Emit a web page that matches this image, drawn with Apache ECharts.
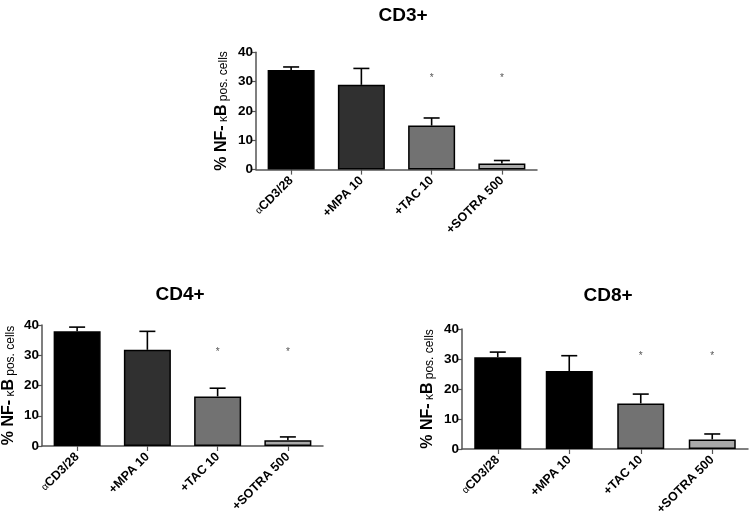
<!DOCTYPE html>
<html>
<head>
<meta charset="utf-8">
<script src="https://cdn.jsdelivr.net/npm/echarts@6/dist/echarts.min.js"></script>
<style>html,body{margin:0;padding:0;background:#fff}#c{width:751px;height:518px}</style>
</head>
<body>
<div id="c"></div>
<script>
const categories = ['αCD3/28', '+MPA 10', '+TAC 10', '+SOTRA 500'];
const panelTitles = ['CD3+', 'CD4+', 'CD8+'];
const yTicks = [0, 10, 20, 30, 40];

const cd3Mean = [34.0, 28.9, 15.0, 2.1];
const cd3Upper = [35.0, 34.5, 17.6, 3.1];
const cd4Mean = [37.9, 31.8, 16.4, 1.9];
const cd4Upper = [39.3, 37.9, 19.1, 3.0];
const cd8Mean = [30.6, 26.0, 15.2, 3.2];
const cd8Upper = [32.3, 31.1, 18.3, 5.0];

const starValue = [null, null, 31, 31];

const barColorsA = ['#000000', '#303030', '#727272', '#a9a9a9'];
const barColorsB = ['#000000', '#000000', '#727272', '#a9a9a9'];

const panels = [
  {mean: cd3Mean, upper: cd3Upper, colors: barColorsA, grid: {left: 256, top: 52.3, width: 281, height: 117.3}, title: {left: 398, top: 1}, nameGap: 26},
  {mean: cd4Mean, upper: cd4Upper, colors: barColorsA, grid: {left: 38, top: 325, width: 285, height: 121}, title: {left: 175, top: 280}, nameGap: 25},
  {mean: cd8Mean, upper: cd8Upper, colors: barColorsB, grid: {left: 462, top: 329, width: 286, height: 120.3}, title: {left: 603, top: 281}, nameGap: 26}
];

const FONT = '"Liberation Sans", Arial, sans-serif';

const option = {
  animation: false,
  backgroundColor: '#fff',
  title: panels.map((p, i) => ({
    text: panelTitles[i], left: p.title.left, top: p.title.top, textAlign: 'center',
    textStyle: {fontFamily: FONT, fontWeight: 'bold', fontSize: 19, color: '#000'}
  })),
  grid: panels.map(p => Object.assign({}, p.grid)),
  xAxis: panels.map((p, i) => ({
    type: 'category', gridIndex: i, data: categories,
    axisLine: {lineStyle: {color: '#555', width: 1.5}},
    axisTick: {show: true, alignWithLabel: true, length: 5, lineStyle: {color: '#555', width: 1.2}},
    axisLabel: {
      rotate: 45, interval: 0, margin: 9, color: '#000',
      formatter: v => v.startsWith('α') ? '{a|α}{b|' + v.slice(1) + '}' : '{b|' + v + '}',
      rich: {
        a: {fontFamily: FONT, fontSize: 10, color: '#000'},
        b: {fontFamily: FONT, fontSize: 12.5, fontWeight: 'bold', color: '#000'}
      }
    }
  })),
  yAxis: panels.map((p, i) => ({
    type: 'value', gridIndex: i, min: yTicks[0], max: yTicks[yTicks.length - 1], interval: 10,
    splitLine: {show: false},
    axisLine: {show: true, lineStyle: {color: '#555', width: 1.5}},
    axisTick: {show: true, length: 4, lineStyle: {color: '#555', width: 1.2}},
    axisLabel: {fontFamily: FONT, fontSize: 13.5, fontWeight: 'bold', color: '#000', margin: 3},
    name: '{b|% NF-}{k| κ}{b|B}{s| pos. cells}',
    nameLocation: 'middle', nameRotate: 90, nameGap: p.nameGap,
    nameTextStyle: {
      verticalAlign: 'bottom',
      rich: {
        b: {fontFamily: FONT, fontSize: 16, fontWeight: 'bold', color: '#000', verticalAlign: 'bottom'},
        k: {fontFamily: FONT, fontSize: 12, color: '#000', verticalAlign: 'bottom'},
        s: {fontFamily: FONT, fontSize: 12, color: '#000', verticalAlign: 'bottom'}
      }
    }
  })),
  series: []
};

panels.forEach((p, i) => {
  option.series.push({
    type: 'bar', xAxisIndex: i, yAxisIndex: i, barWidth: 47,
    data: p.mean.map((v, j) => ({value: v, itemStyle: {color: p.colors[j], borderColor: '#000', borderWidth: 1.5}})),
    z: 2
  });
  option.series.push({
    type: 'custom', xAxisIndex: i, yAxisIndex: i, z: 3,
    data: p.mean.map((v, j) => [j, v, p.upper[j]]),
    renderItem: (params, api) => {
      const x = api.value(0);
      const a = api.coord([x, api.value(1)]);
      const b = api.coord([x, api.value(2)]);
      const hw = 8;
      return {
        type: 'group',
        children: [
          {type: 'line', shape: {x1: a[0], y1: a[1], x2: b[0], y2: b[1]}, style: {stroke: '#000', lineWidth: 1.6}},
          {type: 'line', shape: {x1: b[0] - hw, y1: b[1], x2: b[0] + hw, y2: b[1]}, style: {stroke: '#000', lineWidth: 1.6}}
        ]
      };
    }
  });
  option.series.push({
    type: 'custom', xAxisIndex: i, yAxisIndex: i, z: 4,
    data: starValue.map((v, j) => [j, v]).filter(d => d[1] != null),
    renderItem: (params, api) => {
      const c = api.coord([api.value(0), api.value(1)]);
      return {type: 'text', x: c[0], y: c[1], style: {text: '*', fontFamily: FONT, fontSize: 10, fill: '#555', align: 'center', verticalAlign: 'middle'}};
    }
  });
});

const chart = echarts.init(document.getElementById('c'), null, {renderer: 'canvas'});
chart.setOption(option);
</script>
</body>
</html>
